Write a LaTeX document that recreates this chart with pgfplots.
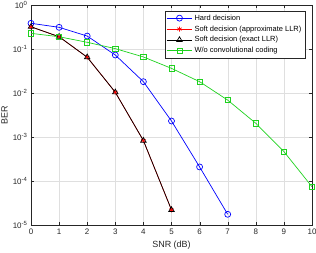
\documentclass[border=0pt]{standalone}
\usepackage{pgfplots}
\pgfplotsset{compat=1.18}
\usepackage{fontspec}
\setmainfont{Liberation Sans}
\definecolor{mgreen}{RGB}{30,210,30}
\definecolor{axgray}{RGB}{38,38,38}
\begin{document}
\begin{tikzpicture}
\path[use as bounding box] (-31bp,-28bp) rectangle (285bp,225bp);
\begin{axis}[
  scale only axis, width=281bp, height=220bp,
  ymode=log, log basis y=10,
  xmin=0, xmax=10, ymin=1e-5, ymax=1,
  xtick={0,...,10},
  ytick={1e-5,1e-4,1e-3,1e-2,1e-1,1},
  yticklabel={10\textsuperscript{\pgfmathprintnumber[assume math mode=true]{\tick}}},
  /pgf/number format/assume math mode=true,
  tick label style={font=\fontsize{8}{9}\selectfont, text=axgray},
  label style={font=\fontsize{9}{10}\selectfont, text=axgray},
  xlabel={SNR (dB)}, ylabel={BER},
  xlabel style={at={(axis description cs:0.5,0)}, anchor=center, yshift=-20bp},
  ylabel style={at={(axis description cs:-0.094,0.5)}, anchor=center},
  grid=both,
  major grid style={color=gray!25, line width=0.4pt},
  minor grid style={color=gray!13, line width=0.3pt},
  axis line style={color=axgray, line width=0.5pt},
  tick style={color=axgray},
  tick align=inside,
  major tick length=2.8bp, minor tick length=1.6bp,
  legend style={at={(axis cs:10,1)}, anchor=north east, xshift=-7bp, yshift=-6bp,
    font=\fontsize{7.5}{9}\selectfont, draw=axgray, fill=white,
    row sep=0pt, inner sep=1.5pt},
  legend cell align=left,
  legend image code/.code={\draw[mark repeat=2,mark phase=2] plot coordinates {(0cm,0cm) (0.45cm,0cm) (0.9cm,0cm)};},
]
\addplot[blue, line width=0.7pt, mark=o, mark size=3pt, mark options={solid}] coordinates {
(0,0.384) (1,0.311) (2,0.197) (3,0.073) (4,0.0181) (5,0.00231) (6,2.09e-4) (7,1.75e-5)};
\addlegendentry{Hard decision}
\addplot[red, line width=0.7pt, mark=asterisk, mark size=2.5pt] coordinates {
(0,0.32) (1,0.19) (2,0.065) (3,0.0104) (4,8.3e-4) (5,2.2e-5)};
\addlegendentry{Soft decision (approximate LLR)}
\addplot[black, line width=0.7pt, mark=triangle, mark size=3.2pt] coordinates {
(0,0.32) (1,0.19) (2,0.065) (3,0.0104) (4,8.3e-4) (5,2.2e-5)};
\addlegendentry{Soft decision (exact LLR)}
\addplot[mgreen, line width=0.7pt, mark=square, mark size=2.6pt] coordinates {
(0,0.227) (1,0.19) (2,0.142) (3,0.102) (4,0.066) (5,0.0363) (6,0.0181) (7,0.0069) (8,0.00205) (9,4.66e-4) (10,7.4e-5)};
\addlegendentry{W/o convolutional coding}
\end{axis}
\end{tikzpicture}
\end{document}
